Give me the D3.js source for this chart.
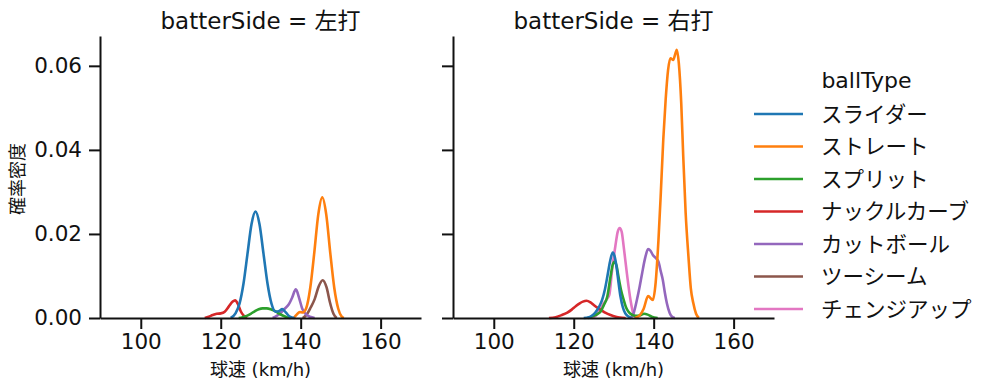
<!DOCTYPE html>
<html lang="ja">
<head>
<meta charset="UTF-8">
<script src="https://cdn.jsdelivr.net/npm/d3@7"></script>
<style>
    body { margin: 0; background: white; }
    text { font-family: "DejaVu Sans", "Noto Sans CJK JP", sans-serif; fill: #111; }
    .axis path, .axis line { stroke: #111; stroke-width: 2px; }
</style>
</head>
<body>
<svg id="chart" width="999" height="391"></svg>
<script>
// categories
const sides = ["左打", "右打"];
const ballTypes = ["スライダー", "ストレート", "スプリット", "ナックルカーブ", "カットボール", "ツーシーム", "チェンジアップ"];
const colors = ["#1f77b4", "#ff7f0e", "#2ca02c", "#d62728", "#9467bd", "#8c564b", "#e377c2"];
const xTicks = [100, 120, 140, 160];
const yTicks = [0, 0.02, 0.04, 0.06];

// density curves: [km/h, density]
const left_slider = [[122.5,0],[123.7,0.0011],[124.7,0.0034],[125.7,0.0082],[126.7,0.0153],[127.7,0.0223],[128.7,0.0253],[129.7,0.0223],[130.7,0.0153],[131.7,0.0082],[132.7,0.0034],[133.7,0.0015],[134.5,0.0016],[135.4,0.0021],[136.3,0.0013],[137.3,0.0003],[138.5,0]];
const left_straight = [[138.3,0],[139,0.0008],[139.8,0.0014],[140.5,0.0013],[141.4,0.0024],[142.4,0.0072],[143.4,0.0155],[144.4,0.0246],[145.4,0.0287],[146.4,0.0246],[147.4,0.0155],[148.4,0.0072],[149.4,0.0022],[150.2,0.0004],[150.8,0]];
const left_split = [[124.5,0],[125.5,0.0002],[126.5,0.0005],[127.5,0.0010],[128.5,0.0016],[129.5,0.0021],[130.5,0.0023],[131.5,0.0023],[132.5,0.0021],[133.5,0.0017],[134.5,0.0011],[135.5,0.0006],[136.5,0.0002],[137.5,0]];
const left_knuckle = [[116,0],[117,0.0003],[118,0.0007],[119,0.0010],[120,0.0011],[121,0.0015],[122,0.0027],[123,0.0039],[123.6,0.0042],[124.3,0.0033],[125,0.0016],[125.8,0.0005],[126.6,0]];
const left_cutter = [[133,0],[134,0.0005],[135,0.0012],[136,0.0022],[137,0.0032],[137.8,0.0047],[138.8,0.0068],[139.6,0.0048],[140.4,0.0022],[141.3,0.0009],[142.3,0.0003],[143.5,0]];
const left_twoseam = [[140.5,0],[141.5,0.0008],[142.5,0.0025],[143.5,0.0045],[144.5,0.0075],[145.5,0.009],[146.5,0.0072],[147.3,0.0038],[148.2,0.001],[149,0]];

const right_slider = [[122.5,0],[123.8,0.0002],[124.6,0.0006],[125.4,0.0013],[126.3,0.0026],[127.1,0.0043],[127.8,0.0068],[128.4,0.0098],[129.1,0.0135],[129.75,0.0156],[130.2,0.0148],[130.7,0.0122],[131.2,0.0085],[131.7,0.0051],[132.3,0.0025],[132.9,0.0011],[133.6,0.0004],[134.4,0]];
const right_straight = [[135.3,0],[136.5,0.0006],[137.5,0.0022],[138.6,0.0052],[139.8,0.0043],[140.5,0.0085],[141.2,0.0186],[141.8,0.030],[142.4,0.0424],[143,0.052],[143.6,0.059],[144.2,0.0618],[144.9,0.0614],[145.3,0.0625],[145.8,0.0638],[146.3,0.0605],[146.9,0.051],[147.4,0.0384],[148,0.025],[148.7,0.0146],[149.3,0.007],[149.9,0.0036],[150.6,0.001],[151.3,0]];
const right_split = [[123.5,0],[125,0.0005],[126,0.001],[126.7,0.0015],[127.5,0.003],[128.4,0.0051],[129.2,0.0098],[129.7,0.0125],[130.2,0.0134],[130.7,0.0125],[131.2,0.0098],[131.8,0.0068],[132.5,0.0043],[133.1,0.0025],[133.7,0.0015],[134.5,0.0008],[135.4,0.0005],[136.5,0.0006],[137.6,0.0010],[138.5,0.0008],[139.5,0.0003],[141,0]];
const right_knuckle = [[113.8,0],[115.5,0.0002],[117,0.0007],[118.4,0.0013],[119.5,0.002],[120.5,0.0028],[121.5,0.0035],[122.3,0.0039],[123.2,0.0041],[124.2,0.0037],[125,0.0031],[126,0.0024],[127,0.0018],[128,0.0012],[129.2,0.0007],[130.5,0.0003],[131.5,0.0001],[133,0]];
const right_cutter = [[134.3,0],[135,0.0012],[135.8,0.0043],[136.5,0.0075],[137.1,0.0106],[137.8,0.014],[138.6,0.0164],[139.2,0.016],[139.8,0.015],[140.5,0.0143],[141.2,0.0134],[141.8,0.011],[142.3,0.009],[142.8,0.006],[143.3,0.0035],[144,0.0012],[144.6,0.0003],[145.3,0]];
const right_change = [[124.5,0],[125.5,0.0005],[126.5,0.0018],[127.5,0.0035],[128.3,0.0045],[128.9,0.0055],[129.6,0.0114],[130.4,0.017],[131,0.0205],[131.5,0.0214],[132,0.0205],[132.5,0.017],[133.3,0.0106],[134.2,0.0043],[135,0.0008],[135.8,0]];

// one list per panel, same order as ballTypes (null = no pitches of that type)
const curves = [
    [left_slider, left_straight, left_split, left_knuckle, left_cutter, left_twoseam, null],
    [right_slider, right_straight, right_split, right_knuckle, right_cutter, null, right_change]
];

const svg = d3.select("#chart");
const panelLeft = [100, 453];
const panelW = 321;
const plotTop = 36, plotBottom = 318;

const y = d3.scaleLinear().domain([0, 0.0671]).range([plotBottom, plotTop]);
const color = d3.scaleOrdinal().domain(ballTypes).range(colors);

sides.forEach((side, i) => {
    const x = d3.scaleLinear().domain([89.8, 170.1]).range([panelLeft[i], panelLeft[i] + panelW]);
    const g = svg.append("g");

    const line = d3.line()
        .x(d => x(d[0]))
        .y(d => y(d[1]))
        .curve(d3.curveMonotoneX);

    // seaborn layers the first hue on top, so draw in reverse
    for (let k = ballTypes.length - 1; k >= 0; k--) {
        const c = curves[i][k];
        if (!c) continue;
        g.append("path")
            .datum(c)
            .attr("d", line)
            .attr("fill", "none")
            .attr("stroke", color(ballTypes[k]))
            .attr("stroke-width", 2.6)
            .attr("stroke-linejoin", "round");
    }

    const xAxis = g.append("g")
        .attr("class", "axis")
        .attr("transform", `translate(0,${plotBottom})`)
        .call(d3.axisBottom(x).tickValues(xTicks).tickSize(11).tickSizeOuter(0).tickPadding(5));
    xAxis.selectAll("text").attr("font-size", 21.5);

    const yAxis = g.append("g")
        .attr("class", "axis")
        .attr("transform", `translate(${panelLeft[i]},0)`)
        .call(d3.axisLeft(y).tickValues(yTicks).tickSize(11).tickSizeOuter(0).tickPadding(7)
            .tickFormat(i === 0 ? d3.format(".2f") : () => ""));
    yAxis.selectAll("text").attr("font-size", 21.5);

    g.append("text")
        .attr("x", panelLeft[i] + panelW / 2)
        .attr("y", 29)
        .attr("text-anchor", "middle")
        .attr("font-size", 23)
        .text(`batterSide = ${side}`);

    g.append("text")
        .attr("x", panelLeft[i] + panelW / 2)
        .attr("y", 376)
        .attr("text-anchor", "middle")
        .attr("font-size", 18)
        .text("球速 (km/h)");
});

svg.append("text")
    .attr("transform", `translate(23.5,${(plotTop + plotBottom) / 2 + 2}) rotate(-90)`)
    .attr("text-anchor", "middle")
    .attr("font-size", 18)
    .text("確率密度");

// legend
const legend = svg.append("g");
legend.append("text")
    .attr("x", 866.5)
    .attr("y", 88)
    .attr("text-anchor", "middle")
    .attr("font-size", 22)
    .text("ballType");

ballTypes.forEach((b, k) => {
    const ly = 114 + k * 32.5;
    legend.append("line")
        .attr("x1", 754).attr("x2", 803)
        .attr("y1", ly).attr("y2", ly)
        .attr("stroke", color(b))
        .attr("stroke-width", 2.6);
    legend.append("text")
        .attr("x", 821)
        .attr("y", ly)
        .attr("dy", "0.35em")
        .attr("font-size", 21.5)
        .text(b);
});
</script>
</body>
</html>
